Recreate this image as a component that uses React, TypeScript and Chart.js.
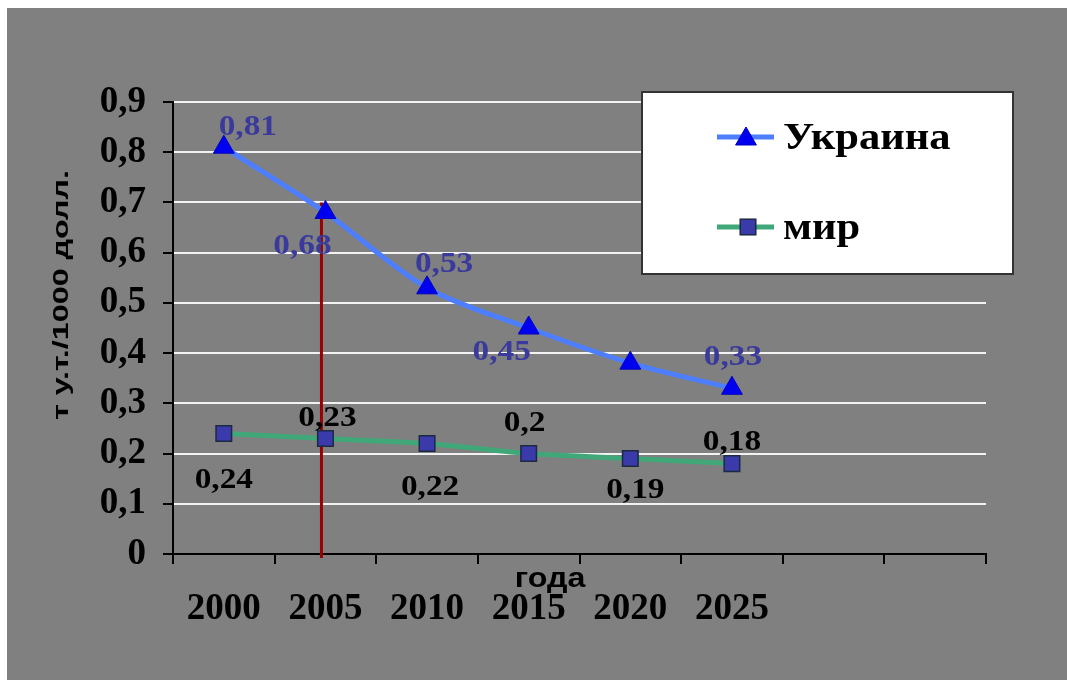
import React, { useEffect, useRef } from 'react';
import { Chart, registerables } from 'chart.js';

Chart.register(...registerables);

// ---- data ----
const categories = ['2000', '2005', '2010', '2015', '2020', '2025', '', ''];
const seriesNames = ['Украина', 'мир'];
const ukraine = [0.81, 0.68, 0.53, 0.45, 0.38, 0.33];
const world = [0.24, 0.23, 0.22, 0.2, 0.19, 0.18];
const ukraineLabels = ['0,81', '0,68', '0,53', '0,45', '', '0,33'];
const worldLabels = ['0,24', '0,23', '0,22', '0,2', '0,19', '0,18'];
const yTitle = 'т у.т./1000 долл.';
const xTitle = 'года';
const markerYear = '2005';
const markerTop = 0.7;

// ---- label placement (pixel offsets from each point) ----
const ukraineLabelOffsets = [[24, -20], [-23, 34], [17, -23], [-27, 25], [0, 0], [1, -31]];
const worldLabelOffsets = [[0, 47], [2, -20], [3, 44], [-4, -30], [5, 32], [0, -21]];

const SERIF = '"Liberation Serif", "Times New Roman", serif';
const SANS = '"Liberation Sans", Arial, sans-serif';
const UKR_LINE = '#4D7EFF';
const UKR_POINT = '#0000F0';
const WORLD_LINE = '#40A878';
const WORLD_POINT = '#3A3AAA';
const UKR_LABEL = '#3A3A9C';
const STRETCH = 1.15;

function drawTriangle(ctx: CanvasRenderingContext2D, x: number, y: number, r: number) {
  ctx.beginPath();
  ctx.moveTo(x, y - r);
  ctx.lineTo(x + r * Math.sin(Math.PI / 3), y + r / 2);
  ctx.lineTo(x - r * Math.sin(Math.PI / 3), y + r / 2);
  ctx.closePath();
  ctx.fillStyle = UKR_POINT;
  ctx.fill();
  ctx.lineWidth = 1;
  ctx.strokeStyle = '#0000C0';
  ctx.stroke();
}

function drawSquare(ctx: CanvasRenderingContext2D, x: number, y: number, r: number) {
  const s = Math.SQRT1_2 * r;
  ctx.fillStyle = WORLD_POINT;
  ctx.fillRect(x - s, y - s, 2 * s, 2 * s);
  ctx.lineWidth = 1.5;
  ctx.strokeStyle = '#1A2A40';
  ctx.strokeRect(x - s, y - s, 2 * s, 2 * s);
}

function stretchedText(ctx: CanvasRenderingContext2D, text: string, x: number, y: number, sx: number) {
  ctx.save();
  ctx.translate(x, y);
  ctx.scale(sx, 1);
  ctx.fillText(text, 0, 0);
  ctx.restore();
}

const overlayPlugin = {
  id: 'overlay',
  beforeDatasetsDraw(chart: any) {
    const { ctx, scales } = chart;
    const x = scales.x;
    const y = scales.y;
    const px = x.getPixelForValue(categories.indexOf(markerYear)) - 4;
    ctx.save();
    ctx.strokeStyle = '#9A0000';
    ctx.lineWidth = 3;
    ctx.beginPath();
    ctx.moveTo(px, y.getPixelForValue(markerTop));
    ctx.lineTo(px, y.getPixelForValue(0) + 4);
    ctx.stroke();
    ctx.restore();
  },
  afterDatasetsDraw(chart: any) {
    const { ctx } = chart;
    ctx.save();
    ctx.font = `bold 29px ${SERIF}`;
    ctx.textAlign = 'center';
    ctx.textBaseline = 'middle';
    const sets = [
      { meta: chart.getDatasetMeta(0), labels: ukraineLabels, offs: ukraineLabelOffsets, color: UKR_LABEL },
      { meta: chart.getDatasetMeta(1), labels: worldLabels, offs: worldLabelOffsets, color: '#000' },
    ];
    sets.forEach((s) => {
      ctx.fillStyle = s.color;
      s.meta.data.forEach((pt: any, i: number) => {
        const t = s.labels[i];
        if (!t) return;
        stretchedText(ctx, t, pt.x + s.offs[i][0], pt.y + s.offs[i][1], STRETCH);
      });
    });
    ctx.restore();
  },
  afterDraw(chart: any) {
    const { ctx } = chart;
    ctx.save();
    // Y title
    ctx.fillStyle = '#000';
    ctx.font = `bold 22px ${SANS}`;
    ctx.textAlign = 'center';
    ctx.textBaseline = 'alphabetic';
    const w = ctx.measureText(yTitle).width;
    ctx.translate(61, 287);
    ctx.rotate(-Math.PI / 2);
    ctx.scale(250 / w, 1);
    ctx.fillText(yTitle, 0, 0);
    ctx.restore();

    ctx.save();
    // X title
    ctx.fillStyle = '#000';
    ctx.font = `bold 28px ${SANS}`;
    ctx.textAlign = 'center';
    ctx.textBaseline = 'alphabetic';
    stretchedText(ctx, xTitle, 543, 579, STRETCH);

    // Legend box
    const lx = 635, ly = 84, lw = 371, lh = 182;
    ctx.fillStyle = '#FFFFFF';
    ctx.fillRect(lx, ly, lw, lh);
    ctx.strokeStyle = '#333333';
    ctx.lineWidth = 2;
    ctx.strokeRect(lx, ly, lw, lh);

    const items = [
      { y: 129, color: UKR_LINE, kind: 'tri', name: seriesNames[0] },
      { y: 219, color: WORLD_LINE, kind: 'sq', name: seriesNames[1] },
    ];
    items.forEach((it) => {
      ctx.strokeStyle = it.color;
      ctx.lineWidth = 5;
      ctx.beginPath();
      ctx.moveTo(710, it.y);
      ctx.lineTo(767, it.y);
      ctx.stroke();
      if (it.kind === 'tri') drawTriangle(ctx, 739, it.y + 2, 12);
      else drawSquare(ctx, 741, it.y, 11);
      ctx.fillStyle = '#000';
      ctx.font = `bold 37px ${SERIF}`;
      ctx.textAlign = 'left';
      ctx.textBaseline = 'middle';
      stretchedText(ctx, it.name, 776, it.y + 2, STRETCH);
    });
    ctx.restore();
  },
};

export default function App() {
  const ref = useRef<HTMLCanvasElement | null>(null);

  useEffect(() => {
    if (!ref.current) return;
    const chart = new Chart(ref.current, {
      type: 'line',
      data: {
        labels: categories,
        datasets: [
          {
            label: seriesNames[0],
            data: ukraine,
            borderColor: UKR_LINE,
            borderWidth: 5,
            tension: 0.3,
            pointStyle: 'triangle',
            pointRadius: 12,
            pointBackgroundColor: UKR_POINT,
            pointBorderColor: '#0000C0',
            pointBorderWidth: 1,
            fill: false,
          },
          {
            label: seriesNames[1],
            data: world,
            borderColor: WORLD_LINE,
            borderWidth: 5,
            tension: 0.2,
            pointStyle: 'rect',
            pointRadius: 11,
            pointBackgroundColor: WORLD_POINT,
            pointBorderColor: '#1A2A40',
            pointBorderWidth: 1.5,
            fill: false,
          },
        ],
      },
      options: {
        animation: false,
        responsive: true,
        maintainAspectRatio: false,
        layout: { padding: { top: 94, right: 81, left: 0, bottom: 0 } },
        plugins: {
          legend: { display: false },
          tooltip: { enabled: false },
        },
        scales: {
          x: {
            type: 'category',
            offset: true,
            afterFit: (s: any) => {
              s.height = 126;
            },
            grid: {
              offset: true,
              drawOnChartArea: false,
              drawTicks: true,
              tickLength: 10,
              tickColor: '#000',
              lineWidth: 2,
            },
            border: { display: true, color: '#000', width: 2 },
            ticks: {
              color: '#000',
              font: { family: SERIF, size: 37, weight: 'bold' },
              padding: 23,
              maxRotation: 0,
              autoSkip: false,
            },
          },
          y: {
            min: 0,
            max: 0.9,
            afterFit: (s: any) => {
              s.width = 166;
            },
            grid: {
              color: (c: any) => (c.tick && c.tick.value === 0 ? 'rgba(0,0,0,0)' : '#F2F2F2'),
              lineWidth: 2,
              tickLength: 10,
              tickColor: '#000',
            },
            border: { display: true, color: '#000', width: 2 },
            ticks: {
              stepSize: 0.1,
              color: '#000',
              padding: 17,
              font: { family: SERIF, size: 37, weight: 'bold' },
              callback: (v: any) => (Number(v) === 0 ? '0' : Number(v).toFixed(1).replace('.', ',')),
            },
          },
        },
      },
      plugins: [overlayPlugin],
    });
    return () => chart.destroy();
  }, []);

  return (
    <div
      style={{
        position: 'fixed',
        left: 7,
        top: 8,
        width: 1060,
        height: 672,
        background: '#808080',
      }}
    >
      <canvas ref={ref} />
    </div>
  );
}
